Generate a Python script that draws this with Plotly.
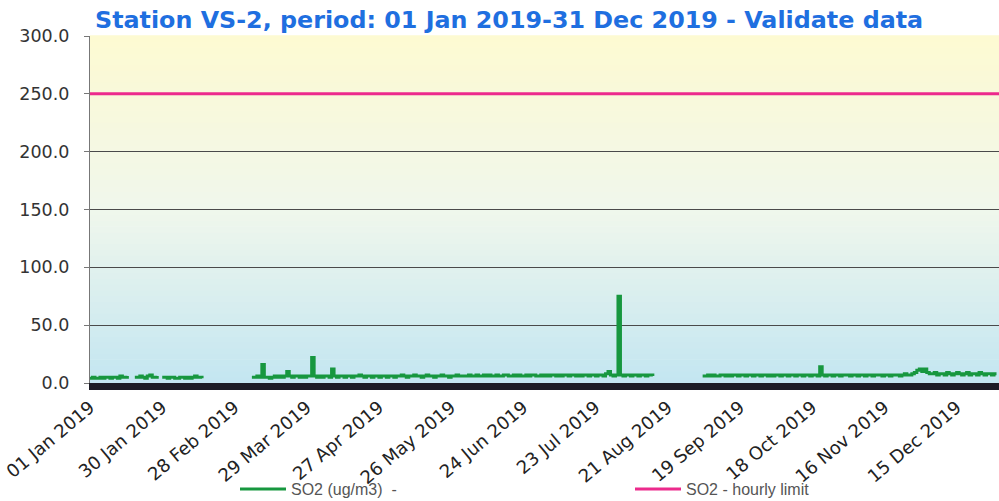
import pandas as pd
import plotly.graph_objects as go

N = None
# Daily SO2 values (ug/m3), None = no data
jan = [4, 5, 4, 4, 5, 4, 5, 5, 4, 5, 5, 4, 6, 5, 5, 6, N, N, 5, 5, 6, 5, 4, 6, 7, 5, 5, 6, N, 5, 5]
feb = [4, 5, 5, 4, 4, 5, 5, 4, 5, 4, 5, 6, 5, 5, 4, N, N, N, N, N, N, N, N, N, N, N, N, N]
mar = [N, N, N, N, N, N, 5, 5, 6, 5, 16, 5, 5, 4, 5, 6, 5, 6, 5, 6, 10, 6, 5, 6, 6, 5, 6, 5, 6, 6, 22]
apr = [6, 5, 6, 5, 6, 6, 5, 12, 6, 5, 6, 6, 5, 6, 6, 5, 6, 6, 7, 6, 5, 6, 6, 5, 6, 6, 5, 6, 6, 5]
may = [6, 6, 5, 6, 6, 7, 6, 5, 6, 6, 7, 6, 6, 5, 6, 7, 6, 6, 5, 6, 6, 7, 6, 6, 5, 6, 6, 7, 6, 6, 6]
jun = [6, 7, 6, 6, 7, 6, 6, 7, 6, 7, 6, 6, 7, 6, 6, 7, 7, 6, 6, 7, 6, 7, 6, 6, 7, 6, 7, 7, 6, 6]
jul = [7, 6, 7, 6, 7, 7, 6, 7, 6, 7, 7, 6, 7, 7, 6, 7, 6, 7, 7, 6, 7, 7, 6, 7, 7, 6, 8, 10, 7, 6, 7]
aug = [75, 7, 6, 7, 7, 6, 7, 7, 6, 7, 7, 6, 7, 7, 6, N, N, N, N, N, N, N, N, N, N, N, N, N, N, N, N]
sep = [N, N, N, 6, 6, 7, 6, 7, 6, 6, 7, 7, 6, 7, 6, 7, 7, 6, 7, 7, 6, 7, 7, 6, 7, 7, 6, 7, 7, 6]
oct_ = [7, 6, 7, 7, 6, 7, 7, 6, 7, 7, 6, 7, 7, 6, 7, 7, 6, 7, 7, 6, 14, 7, 6, 7, 7, 6, 7, 7, 6, 7, 7]
nov = [7, 6, 7, 7, 6, 7, 7, 6, 7, 7, 6, 7, 7, 7, 6, 7, 7, 6, 7, 7, 7, 6, 7, 8, 7, 7, 8, 9, 11, 12]
dec = [10, 12, 9, 8, 8, 9, 7, 8, 8, 7, 9, 8, 7, 8, 9, 8, 7, 8, 9, 7, 8, 8, 7, 9, 8, 7, 8, 8, 7, 8, 8]

so2_values = jan + feb + mar + apr + may + jun + jul + aug + sep + oct_ + nov + dec
so2_dates = pd.date_range("2019-01-01", periods=len(so2_values), freq="D")

limit_dates = ["2019-01-01", "2020-01-01"]
limit_values = [250, 250]

tick_dates = ["2019-01-01", "2019-01-30", "2019-02-28", "2019-03-29", "2019-04-27",
              "2019-05-26", "2019-06-24", "2019-07-23", "2019-08-21", "2019-09-19",
              "2019-10-18", "2019-11-16", "2019-12-15"]
tick_labels = ["01 Jan 2019", "30 Jan 2019", "28 Feb 2019", "29 Mar 2019", "27 Apr 2019",
               "26 May 2019", "24 Jun 2019", "23 Jul 2019", "21 Aug 2019", "19 Sep 2019",
               "18 Oct 2019", "16 Nov 2019", "15 Dec 2019"]
y_ticks = [0, 50, 100, 150, 200, 250, 300]
y_tick_labels = ["0.0", "50.0", "100.0", "150.0", "200.0", "250.0", "300.0"]

fig = go.Figure()
fig.add_trace(go.Scatter(x=so2_dates, y=so2_values, mode="lines", name="SO2 (ug/m3)  -",
                         line=dict(color="#17973f", width=3, shape="hv"), connectgaps=False,
                         legend="legend"))
fig.add_trace(go.Scatter(x=limit_dates, y=limit_values, mode="lines", name="SO2 - hourly limit",
                         line=dict(color="#ec2a8c", width=3), legend="legend2"))

# vertical gradient background (pale yellow top -> light blue bottom)
top = (253, 250, 210)
mid = (240, 247, 236)
bot = (196, 230, 241)
nb = 60
shapes = []
for i in range(nb):
    t = i / (nb - 1)
    if t < 0.5:
        a, b, f = bot, mid, t / 0.5
    else:
        a, b, f = mid, top, (t - 0.5) / 0.5
    c = tuple(int(round(a[k] + (b[k] - a[k]) * f)) for k in range(3))
    shapes.append(dict(type="rect", xref="paper", yref="paper", x0=0, x1=1,
                       y0=i / nb, y1=(i + 1) / nb + 0.002, line=dict(width=0),
                       fillcolor="rgb(%d,%d,%d)" % c, layer="below"))

leg_font = dict(family="Liberation Sans", size=16, color="#555555")
fig.update_layout(
    width=999, height=501,
    margin=dict(l=90, r=0, t=36, b=118),
    paper_bgcolor="white", plot_bgcolor="white",
    shapes=shapes,
    showlegend=True,
    title=dict(text="<b>Station VS-2, period: 01 Jan 2019-31 Dec 2019 - Validate data</b>",
               font=dict(family="DejaVu Sans", size=23.8, color="#1f6fe0"),
               x=95 / 999, xanchor="left", xref="container",
               y=0.977, yanchor="top", yref="container"),
    xaxis=dict(range=["2019-01-01", "2020-01-01"], tickmode="array", tickvals=tick_dates,
               ticktext=tick_labels, tickangle=-40, showgrid=False, showline=True,
               linewidth=7, linecolor="#1c1c26", ticks="", automargin=False,
               tickfont=dict(family="DejaVu Sans", size=18, color="#222222")),
    yaxis=dict(range=[0, 300], tickmode="array", tickvals=y_ticks,
               ticktext=[t + "\u00a0\u00a0" for t in y_tick_labels],
               showgrid=True, gridcolor="#4a4a4a", gridwidth=1, zeroline=False,
               showline=True, linecolor="#777777", linewidth=1, ticks="outside",
               ticklen=5, tickcolor="#777777", automargin=False,
               tickfont=dict(family="DejaVu Sans", size=17.5, color="#333333")),
    legend=dict(orientation="h", x=235 / 999, xanchor="left", xref="container",
                y=1 - 489 / 501, yanchor="middle", yref="container",
                font=leg_font, itemwidth=46, bgcolor="rgba(0,0,0,0)"),
    legend2=dict(orientation="h", x=630 / 999, xanchor="left", xref="container",
                 y=1 - 489 / 501, yanchor="middle", yref="container",
                 font=leg_font, itemwidth=46, bgcolor="rgba(0,0,0,0)"),
)

fig.write_html("out.html", config={"displayModeBar": False},
               post_script="document.body.style.margin='0';document.body.style.overflow='hidden';")
